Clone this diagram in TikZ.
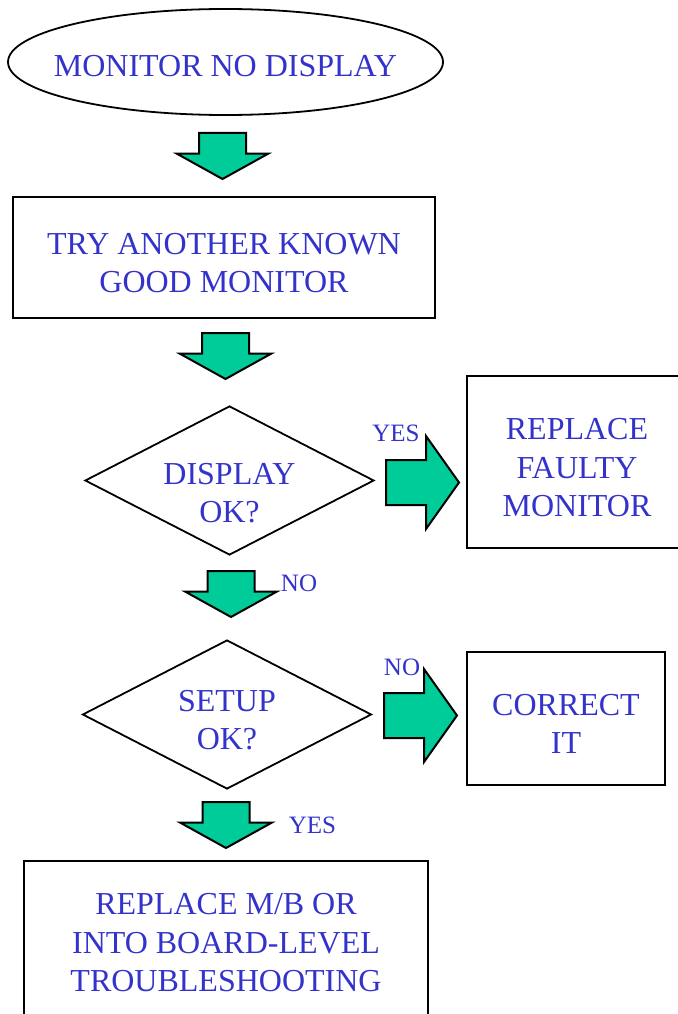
\documentclass[tikz,border=0pt]{standalone}
\usepackage{fontspec}
\setmainfont{Liberation Serif}
\usepackage{tikz}
\usetikzlibrary{shapes.geometric}

\definecolor{txtblue}{RGB}{51,51,204}
\definecolor{arrgreen}{RGB}{0,204,153}

\tikzset{
  dnarrow/.pic={\draw[line width=2pt, fill=arrgreen]
    (-23.5,0) -- (23.5,0) -- (23.5,20.5) -- (46,20.5) -- (0,46) -- (-46,20.5) -- (-23.5,20.5) -- cycle;},
  rtarrow/.pic={\draw[line width=2pt, fill=arrgreen]
    (0,-22.5) -- (40,-22.5) -- (40,-46.5) -- (73,0) -- (40,46.5) -- (40,22.5) -- (0,22.5) -- cycle;}
}

\begin{document}
\begin{tikzpicture}[x=1pt, y=-1pt,
  txt/.style={text=txtblue, font=\fontsize{32}{38.5}\selectfont, align=center, inner sep=0pt},
  tpos/.style={text height=#1, text depth=0pt},
  box/.style={txt, draw, line width=2.2pt},
  dec/.style={txt, draw, diamond, aspect=1.94, inner xsep=-12pt, line width=1.8pt, minimum width=289pt, minimum height=149pt},
  lbl/.style={text=txtblue, font=\fontsize{25}{30}\selectfont, inner sep=0pt}]
  \useasboundingbox (0,0) rectangle (677,1014);

  % Ablauf
  \node[txt, draw, ellipse, line width=1.8pt, minimum width=435pt, minimum height=106pt, tpos=29pt] (mon) at (225.5,62) {\makebox[0pt]{MONITOR NO DISPLAY}};
  \node[box, minimum width=422pt, minimum height=121pt, tpos=70.5pt] (try) at (224,257.5) {TRY ANOTHER KNOWN\\GOOD MONITOR};
  \node[dec, tpos=84.5pt] (disp) at (229.5,480.5) {DISPLAY\\OK?};
  \node[box, minimum width=220pt, minimum height=172pt, tpos=109pt] (repl) at (577,462) {REPLACE\\FAULTY\\MONITOR};
  \node[dec, tpos=70.5pt] (setup) at (227,714.5) {SETUP\\OK?};
  \node[box, minimum width=198pt, minimum height=133pt, tpos=70.5pt] (corr) at (566,718.5) {CORRECT\\IT};
  \node[box, minimum width=404pt, minimum height=169pt, tpos=92pt] (mb) at (226,945.5) {REPLACE M/B OR\\INTO BOARD-LEVEL\\TROUBLESHOOTING};

  % Blockpfeile
  \pic at (222.5,133) {dnarrow};
  \pic at (225.5,333) {dnarrow};
  \pic at (231,571) {dnarrow};
  \pic at (226,802) {dnarrow};
  \pic at (386,482.5) {rtarrow};
  \pic at (384,715.5) {rtarrow};

  \node[lbl] (yes1) at (396,433) {YES};
  \node[lbl] (no1) at (299,583) {NO};
  \node[lbl] (no2) at (402,667) {NO};
  \node[lbl] (yes2) at (312.5,825.5) {YES};
\end{tikzpicture}
\end{document}
